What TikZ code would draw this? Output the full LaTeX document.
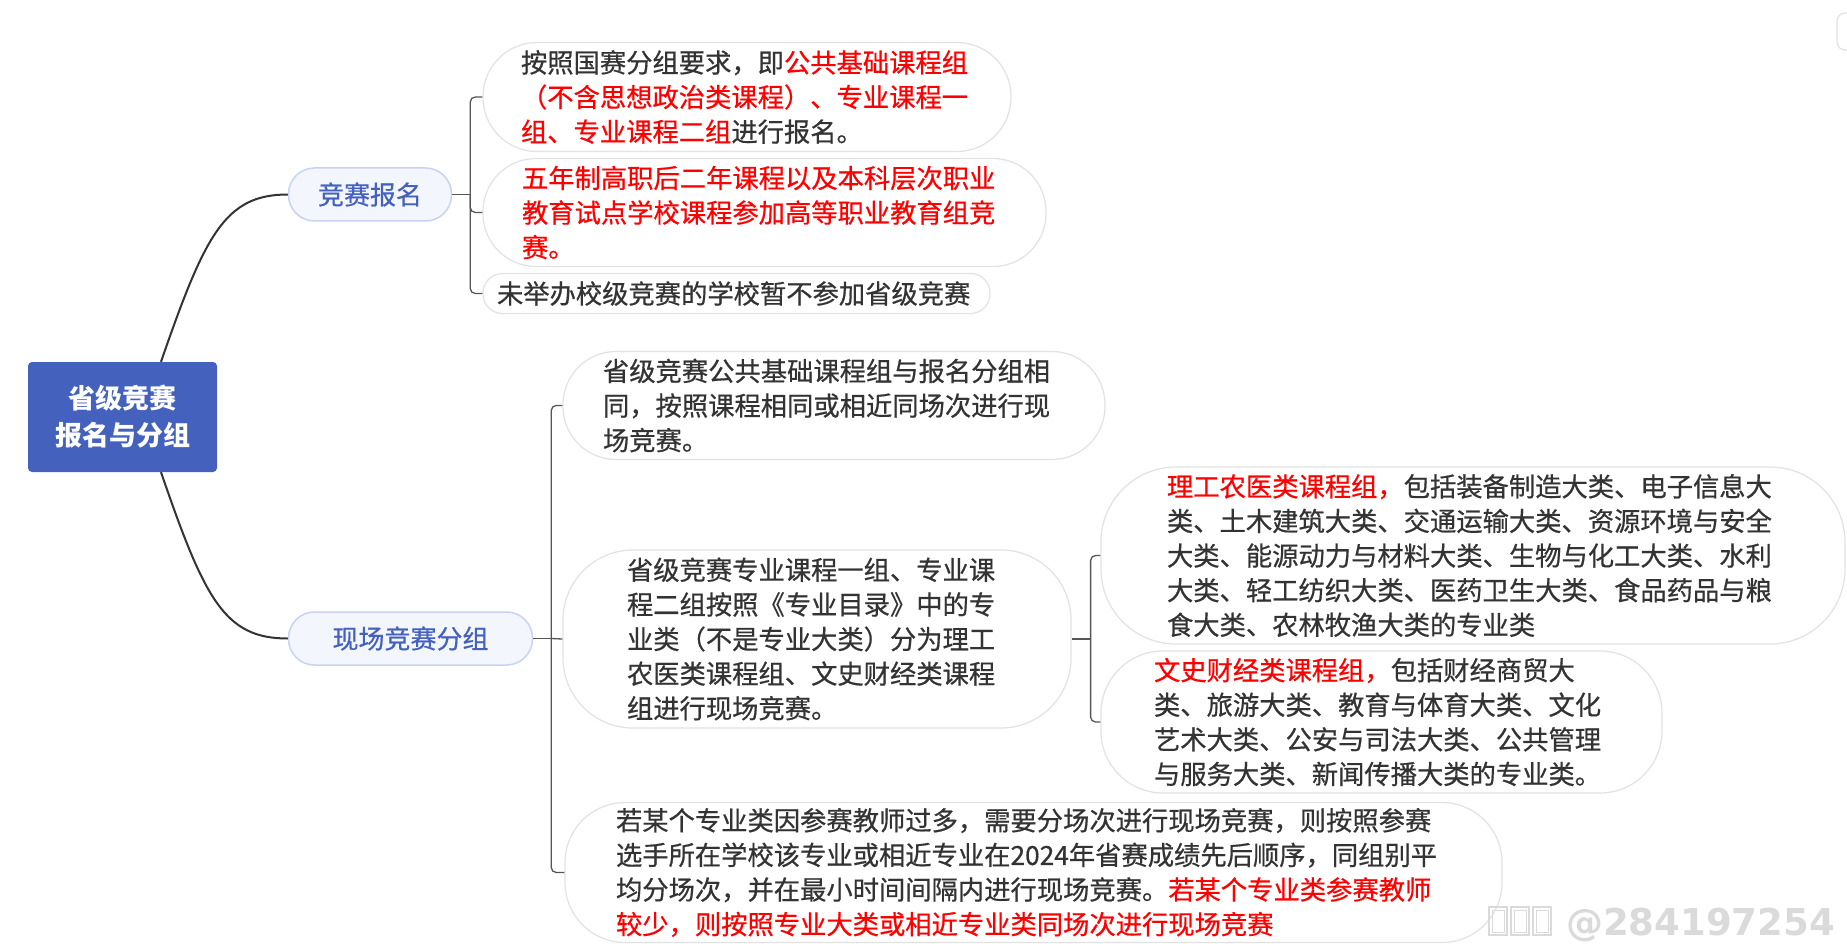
\documentclass[tikz,border=0pt]{standalone}
\usepackage{fontspec}
\setmainfont{Noto Sans CJK SC}[UprightFeatures={FakeBold=0.6}]
\newfontfamily\wmfont{DejaVu Sans}
\definecolor{txt}{HTML}{333333}
\definecolor{hl}{HTML}{FF0000}
\definecolor{rootblue}{HTML}{4361BD}
\definecolor{topicblue}{HTML}{4361BD}
\definecolor{pillfill}{HTML}{F4F6FE}
\definecolor{pillborder}{HTML}{C8D2F6}
\definecolor{leafgray}{HTML}{E2E2E2}
\definecolor{linegray}{HTML}{555555}
\definecolor{wmgray}{HTML}{DADADA}
\begin{document}
\begin{tikzpicture}[x=1pt,y=-1pt,
  rootbox/.style={fill=rootblue, rounded corners=4pt, minimum width=189pt, minimum height=110pt,
    inner sep=0pt, text=white, align=center, font=\fontsize{27}{37}\selectfont\bfseries},
  topic/.style={draw=pillborder, fill=pillfill, line width=1.5pt, rounded corners=26pt,
    minimum height=53pt, inner sep=0pt, text=topicblue, font=\fontsize{26}{30}\selectfont},
  leaf/.style={draw=leafgray, fill=white, line width=1.2pt, inner sep=0pt, align=left,
    text=txt, font=\fontsize{26.3}{34.6}\selectfont},
  trunk/.style={draw=txt, line width=2pt},
  brk/.style={draw=linegray, line width=1.3pt, rounded corners=5pt},
  wm/.style={text=wmgray, inner sep=0pt, font=\wmfont\bfseries\fontsize{37}{40}\selectfont}
]
\useasboundingbox (0,0) rectangle (1847,944);
\fill[white] (0,0) rectangle (1847,944);
\clip (0,0) rectangle (1847,944);

% root and main topics
\node[rootbox] (root) at (122.5,417) {省级竞赛\\报名与分组};
\node[topic, minimum width=163pt] (n1) at (370,194.5) {竞赛报名};
\node[topic, minimum width=244pt] (n2) at (410.5,638.5) {现场竞赛分组};

% leaves of 竞赛报名
\node[leaf, minimum width=528pt, minimum height=109pt, text width=452pt, rounded corners=54pt] (l1) at (747,97)
  {按照国赛分组要求，即\textcolor{hl}{公共基础课程组}\\\textcolor{hl}{（不含思想政治类课程）、专业课程一}\\\textcolor{hl}{组、专业课程二组}进行报名。};
\node[leaf, minimum width=563pt, minimum height=108pt, text width=485pt, rounded corners=53pt, text=hl] (l2) at (764.5,212.5)
  {五年制高职后二年课程以及本科层次职业\\教育试点学校课程参加高等职业教育组竞\\赛。};
\node[leaf, minimum width=507pt, minimum height=40pt, text width=479pt, rounded corners=19.5pt] (l3) at (736.5,293.5)
  {未举办校级竞赛的学校暂不参加省级竞赛};

% leaves of 现场竞赛分组
\node[leaf, minimum width=542pt, minimum height=108pt, text width=462pt, rounded corners=53pt] (la) at (834,405.5)
  {省级竞赛公共基础课程组与报名分组相\\同，按照课程相同或相近同场次进行现\\场竞赛。};
\node[leaf, minimum width=508pt, minimum height=178pt, text width=380pt, rounded corners=70pt] (lb) at (817,639)
  {省级竞赛专业课程一组、专业课\\程二组按照《专业目录》中的专\\业类（不是专业大类）分为理工\\农医类课程组、文史财经类课程\\组进行现场竞赛。};
\node[leaf, minimum width=937pt, minimum height=140pt, text width=835pt, rounded corners=60pt] (lc) at (1033.5,872.5)
  {若某个专业类因参赛教师过多，需要分场次进行现场竞赛，则按照参赛\\选手所在学校该专业或相近专业在2024年省赛成绩先后顺序，同组别平\\均分场次，并在最小时间间隔内进行现场竞赛。\textcolor{hl}{若某个专业类参赛教师}\\\textcolor{hl}{较少，则按照专业大类或相近专业类同场次进行现场竞赛}};

% leaves of leaf B
\node[leaf, minimum width=744pt, minimum height=177pt, text width=612pt, rounded corners=75pt] (lb1) at (1473,555.5)
  {\textcolor{hl}{理工农医类课程组，}包括装备制造大类、电子信息大\\类、土木建筑大类、交通运输大类、资源环境与安全\\大类、能源动力与材料大类、生物与化工大类、水利\\大类、轻工纺织大类、医药卫生大类、食品药品与粮\\食大类、农林牧渔大类的专业类};
\node[leaf, minimum width=561pt, minimum height=142pt, text width=455pt, rounded corners=62pt] (lb2) at (1381.5,722)
  {\textcolor{hl}{文史财经类课程组，}包括财经商贸大\\类、旅游大类、教育与体育大类、文化\\艺术大类、公安与司法大类、公共管理\\与服务大类、新闻传播大类的专业类。};

% trunk connectors
\draw[trunk] ([xshift=38.5pt]root.north) .. controls +(44,-127) and +(-63,0) .. (n1.west);
\draw[trunk] ([xshift=38.5pt]root.south) .. controls +(44,128) and +(-63,0) .. (n2.west);

% brackets
\coordinate (j1) at ([xshift=18pt]n1.east);
\draw[brk] (n1.east) -- (j1);
\draw[brk] (j1) |- (l1.west);
\draw[brk] (j1) |- (l2.west);
\draw[brk] (j1) |- (l3.west);

\coordinate (j2) at ([xshift=18pt]n2.east);
\draw[brk] (n2.east) -- (j2);
\draw[brk] (j2) |- (la.west);
\draw[brk] (j2) -- (lb.west);
\draw[brk] (j2) |- (lc.west);

\coordinate (j3) at ([xshift=19pt]lb.east);
\draw[brk] (lb.east) -- (j3);
\draw[brk] (j3) |- (lb1.west);
\draw[brk] (j3) |- (lb2.west);

% partial box at the top right edge
\draw[draw=leafgray, line width=1.2pt, rounded corners=8pt] (1856,13) -- (1837,13) -- (1837,50) -- (1856,50);

% watermark
\foreach \bx in {1489,1511,1533}{
  \draw[wmgray, line width=1.2pt] (\bx,907) rectangle ++(18,28);
  \draw[wmgray, line width=1pt] (\bx+3,910) rectangle ++(12,22);
}
\node[wm, anchor=base west] (wmtext) at (1566,935) {@284197254};
\end{tikzpicture}
\end{document}
